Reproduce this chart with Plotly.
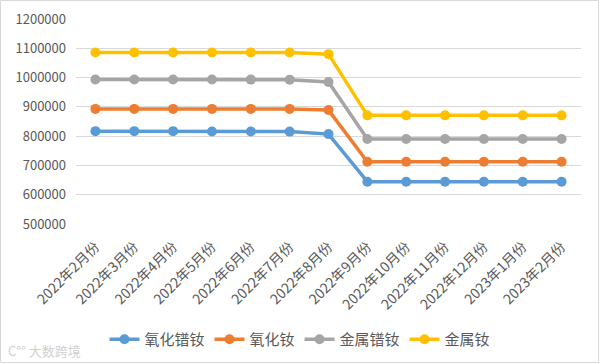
import plotly.graph_objects as go

categories = ["2022年2月份", "2022年3月份", "2022年4月份", "2022年5月份", "2022年6月份",
              "2022年7月份", "2022年8月份", "2022年9月份", "2022年10月份", "2022年11月份",
              "2022年12月份", "2023年1月份", "2023年2月份"]
pr_nd_oxide = [817000, 817000, 817000, 816000, 816000, 815500, 807000,
               644500, 644500, 644500, 644500, 644500, 644500]
nd_oxide = [893000, 893000, 893000, 893000, 893000, 893000, 889000,
            712500, 712500, 712500, 712500, 712500, 712500]
pr_nd_metal = [993500, 993500, 993500, 993500, 993000, 992500, 985000,
               790000, 790000, 790000, 790000, 790000, 790000]
nd_metal = [1085500, 1085500, 1085500, 1085500, 1085500, 1085500, 1080000,
            871000, 871000, 871000, 871000, 871000, 871000]
series_names = ["氧化镨钕", "氧化钕", "金属镨钕", "金属钕"]
y_ticks = [500000, 600000, 700000, 800000, 900000, 1000000, 1100000, 1200000]

colors = ["#5B9BD5", "#ED7D31", "#A5A5A5", "#FFC000"]
FONT = "Noto Sans CJK SC"

fig = go.Figure()
for name, vals, c in zip(series_names, [pr_nd_oxide, nd_oxide, pr_nd_metal, nd_metal], colors):
    fig.add_trace(go.Scatter(x=categories, y=vals, name=name, mode="lines+markers",
                             line=dict(color=c, width=3.5),
                             marker=dict(color=c, size=10)))

W, H = 600, 364
ml, mr, mt, mb = 76, 19, 19, 140
pw, ph = W - ml - mr, H - mt - mb

fig.update_layout(
    width=W, height=H,
    margin=dict(l=ml, r=mr, t=mt, b=mb, pad=0, autoexpand=False),
    paper_bgcolor="white", plot_bgcolor="white",
    font=dict(family=FONT, color="#595959", size=13),
    showlegend=True,
    legend=dict(orientation="h", xref="container", yref="container",
                x=0.5, xanchor="center", y=0.022, yanchor="bottom",
                font=dict(size=15, color="#595959"), itemwidth=30,
                tracegroupgap=0),
    xaxis=dict(type="category", tickangle=-45, showgrid=False, showline=False,
               ticks="", tickfont=dict(size=14, color="#595959"),
               ticklabelstandoff=11, automargin=False,
               range=[-0.5, len(categories) - 0.5]),
    yaxis=dict(range=[500000, 1200000], tickvals=y_ticks,
               ticktext=[str(v) for v in y_ticks],
               showgrid=True, gridcolor="#D9D9D9", gridwidth=1,
               zeroline=False, showline=False, ticks="", automargin=False,
               tickfont=dict(size=13, color="#595959"), ticklabelstandoff=9),
)

# outer border
fig.add_shape(type="rect", xref="paper", yref="paper",
              x0=(0.5 - ml) / pw, x1=(W - 1.5 - ml) / pw,
              y0=-(H - 1.5 - mt - ph) / ph, y1=(mt - 0.5) / ph + 1,
              line=dict(color="#D9D9D9", width=1), layer="below")

# watermark
fig.add_annotation(text="C°° 大数跨境", xref="paper", yref="paper",
                   x=(6 - ml) / pw, y=-(350 - mt - ph) / ph,
                   xanchor="left", yanchor="middle", showarrow=False,
                   font=dict(size=13, color="#D0D0D0", family=FONT))

fig.write_html("out.html", config={"displayModeBar": False},
               post_script="document.body.style.margin='0';")
